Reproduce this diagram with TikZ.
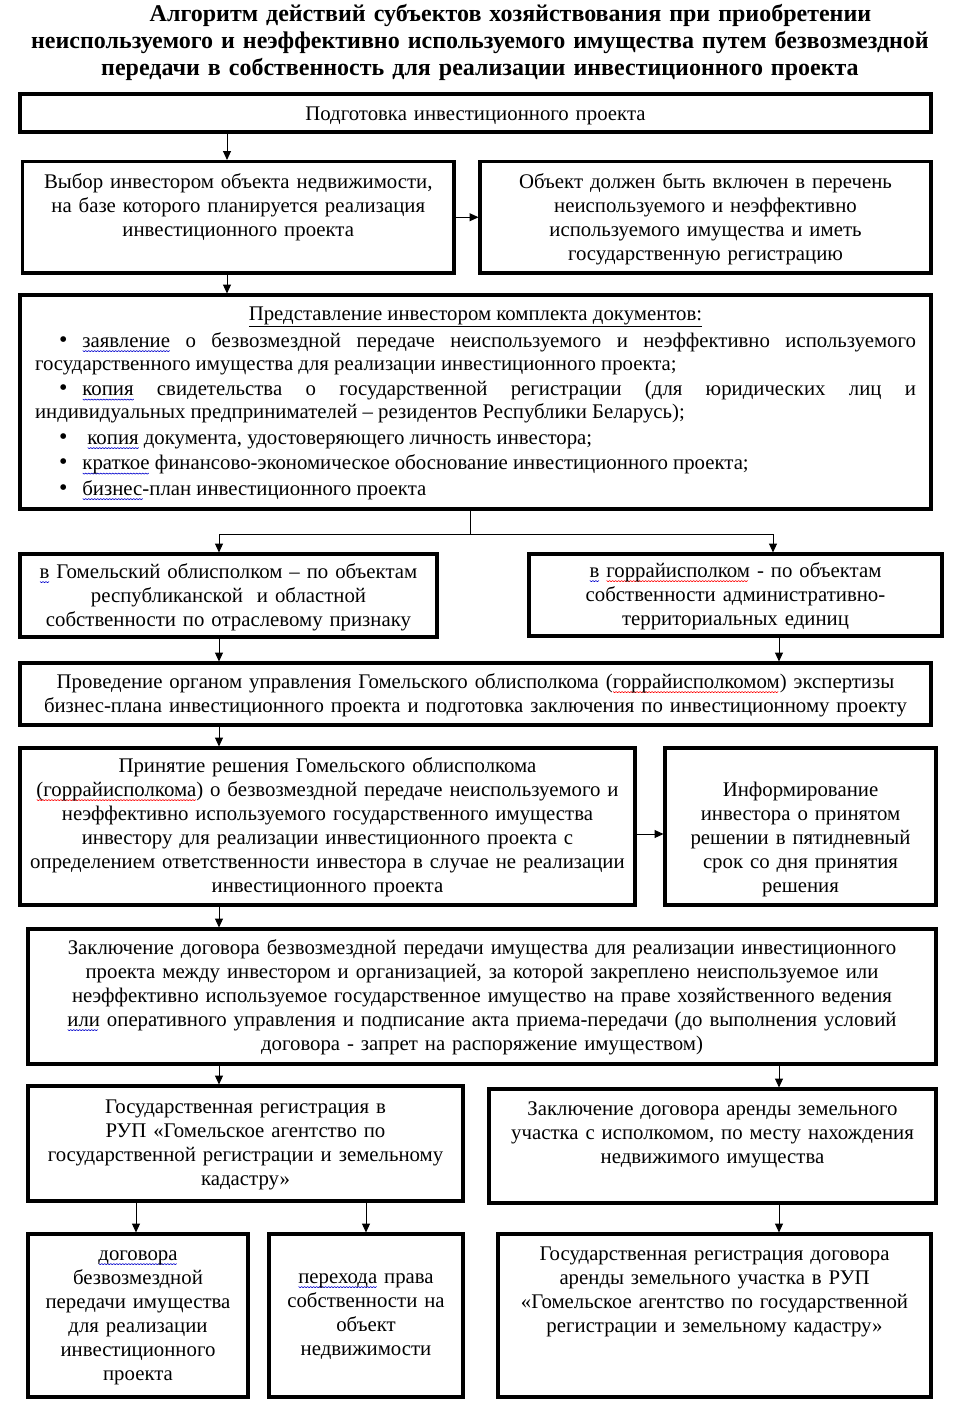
\documentclass[tikz,border=0pt]{standalone}
\usepackage{fontspec}
\setmainfont{Liberation Serif}
\usepackage{xcolor}
\usepackage{tikz}
\usetikzlibrary{arrows.meta, positioning, calc}

\newsavebox\wvbox
\newcommand\wavy[2]{\leavevmode\sbox\wvbox{#2}\pgfmathtruncatemacro\wvn{\the\wd\wvbox/3}%
  \rlap{\tikz[baseline=0pt, x=1pt, y=1pt]\draw[#1, line width=0.6pt, line join=round] (0,-3.5) \foreach \k in {1,...,\wvn} {-- ++(1.5,-1.2) -- ++(1.5,1.2)};}\usebox\wvbox}
\newcommand\bwave[1]{\wavy{blue!80!black}{#1}}
\newcommand\rwave[1]{\wavy{red}{#1}}
\newcommand\itm[1]{\hspace*{24pt}{\fontsize{24}{23}\selectfont\textbullet}\hspace{#1}}

\begin{document}
\begin{tikzpicture}[
    x=1pt, y=-1pt,
    blk/.style={draw, line width=3.5pt, anchor=north west, align=center, inner xsep=4pt, inner ysep=0pt, outer sep=0pt, text height=26pt, font=\fontsize{20.8}{24}\selectfont},
    ttl/.style={anchor=north, text width=950pt, align=center, inner sep=0pt, text height=21pt, text depth=60pt, font=\fontsize{24}{27}\selectfont\bfseries},
    >={Triangle[length=9pt,width=8pt]}]
  \useasboundingbox (0,0) rectangle (960,1424);
  \node[ttl] (title) at (480,0) {\hspace*{61pt}Алгоритм действий субъектов хозяйствования при приобретении\\
    неиспользуемого и неэффективно используемого имущества путем безвозмездной\\
    передачи в собственность для реализации инвестиционного проекта};

  \node[blk, text width=903pt, text depth=12pt] (prep) at (20,94) {Подготовка инвестиционного проекта};
  \node[blk, text width=423.5pt, text height=26.5pt, text depth=85pt] (choice) at (22.5,161.5)
    {Выбор инвестором объекта недвижимости,\\ на базе которого планируется реализация\\ инвестиционного проекта};
  \node[blk, text width=443pt, text height=26.5pt, text depth=85pt] (list) at (480,161.5)
    {Объект должен быть включен в перечень\\ неиспользуемого и неэффективно\\ используемого имущества и иметь\\ государственную регистрацию};
  \node[blk, inner xsep=15pt, text width=881pt, text height=25pt, text depth=189pt, align=justify, font=\fontsize{20.8}{23}\selectfont] (docs) at (20,295) {%
    \setlength{\parskip}{2.5pt}%
    {\centering\underline{Представление инвестором комплекта документов:}\par}\vspace{1.5pt}
    \itm{15pt}\bwave{заявление} о безвозмездной передаче неиспользуемого и неэффективно используемого\linebreak
    государственного имущества для реализации инвестиционного проекта;\par
    \itm{15pt}\bwave{копия} свидетельства о государственной регистрации (для юридических лиц и\linebreak
    индивидуальных предпринимателей – резидентов Республики Беларусь);\par
    \itm{20pt}\bwave{копия} документа, удостоверяющего личность инвестора;\par
    \itm{15pt}\bwave{краткое} финансово-экономическое обоснование инвестиционного проекта;\par
    \itm{15pt}\bwave{бизнес}-план инвестиционного проекта\par};

  \node[blk, text width=409pt, text height=24pt, text depth=59pt] (oblast) at (20,554)
    {\bwave{в} Гомельский облисполком – по объектам\\ республиканской \ и областной\\ собственности по отраслевому признаку};
  \node[blk, text width=405pt, text height=23pt, text depth=59pt] (rayon) at (529,554)
    {\bwave{в} \rwave{горрайисполком} - по объектам\\ собственности административно-\\ территориальных единиц};
  \node[blk, text width=903pt, text height=25pt, text depth=37pt] (expert) at (20,663)
    {Проведение органом управления Гомельского облисполкома (\rwave{горрайисполкомом}) экспертизы\\ бизнес-плана инвестиционного проекта и подготовка заключения по инвестиционному проекту};
  \node[blk, text width=607pt, text height=24pt, text depth=133pt] (decision) at (20,748)
    {Принятие решения Гомельского облисполкома\\ \rwave{(горрайисполкома}) о безвозмездной передаче неиспользуемого и\\ неэффективно используемого государственного имущества\\ инвестору для реализации инвестиционного проекта с\\ определением ответственности инвестора в случае не реализации\\ инвестиционного проекта};
  \node[blk, text width=263pt, text height=48pt, text depth=109pt] (inform) at (665,748)
    {Информирование\\ инвестора о принятом\\ решении в пятидневный\\ срок со дня принятия\\ решения};
  \node[blk, text width=900pt, text height=25pt, text depth=110pt] (contract) at (28,929)
    {Заключение договора безвозмездной передачи имущества для реализации инвестиционного\\ проекта между инвестором и организацией, за которой закреплено неиспользуемое или\\ неэффективно используемое государственное имущество на праве хозяйственного ведения\\ \bwave{или} оперативного управления и подписание акта приема-передачи (до выполнения условий\\ договора - запрет на распоряжение имуществом)};

  \node[blk, text width=427pt, text height=27pt, text depth=88pt] (reg) at (28,1086)
    {Государственная регистрация в\\ РУП «Гомельское агентство по\\ государственной регистрации и земельному\\ кадастру»};
  \node[blk, text width=439pt, text height=26pt, text depth=88pt] (lease) at (489,1089)
    {Заключение договора аренды земельного\\ участка с исполкомом, по месту нахождения\\ недвижимого имущества};
  \node[blk, text width=212pt, text height=26pt, text depth=137pt] (regcontr) at (28,1234)
    {\bwave{договора}\\ безвозмездной\\ передачи имущества\\ для реализации\\ инвестиционного\\ проекта};
  \node[blk, text width=186pt, text height=49pt, text depth=114pt] (regright) at (269,1234)
    {\bwave{перехода} права\\ собственности на\\ объект\\ недвижимости};
  \node[blk, text width=425pt, text height=26pt, text depth=137pt] (reglease) at (498,1234)
    {Государственная регистрация договора\\ аренды земельного участка в РУП\\ «Гомельское агентство по государственной\\ регистрации и земельному кадастру»};

  \coordinate (xa) at (219,0);
  \coordinate (xb) at (227,0);
  \coordinate (xc) at (773,0);
  \coordinate (xd) at (779,0);
  \coordinate (xe) at (136,0);
  \coordinate (xf) at (366,0);
  \coordinate (split) at (470,534);
  \coordinate (ya) at (0,834);

  \draw[->, line width=1pt, shorten >=1.5pt] (prep.south -| xb) -- (choice.north -| xb);
  \draw[->, line width=1pt, shorten >=1.5pt] (choice.east) -- (list.west);
  \draw[->, line width=1pt, shorten >=1.5pt] (choice.south -| xb) -- (docs.north -| xb);
  \draw[line width=1pt] (docs.south -| split) -- (split);
  \draw[->, line width=1pt, shorten >=1.5pt] (split) -| (oblast.north -| xa);
  \draw[->, line width=1pt, shorten >=1.5pt] (split) -| (rayon.north -| xc);
  \draw[->, line width=1pt, shorten >=1.5pt] (oblast.south -| xa) -- (expert.north -| xa);
  \draw[->, line width=1pt, shorten >=1.5pt] (rayon.south -| xd) -- (expert.north -| xd);
  \draw[->, line width=1pt, shorten >=1.5pt] (expert.south -| xa) -- (decision.north -| xa);
  \draw[->, line width=1pt, shorten >=1.5pt] (decision.east |- ya) -- (inform.west |- ya);
  \draw[->, line width=1pt, shorten >=1.5pt] (decision.south -| xa) -- (contract.north -| xa);
  \draw[->, line width=1pt, shorten >=1.5pt] (contract.south -| xa) -- (reg.north -| xa);
  \draw[->, line width=1pt, shorten >=1.5pt] (contract.south -| xd) -- (lease.north -| xd);
  \draw[->, line width=1pt, shorten >=1.5pt] (reg.south -| xe) -- (regcontr.north -| xe);
  \draw[->, line width=1pt, shorten >=1.5pt] (reg.south -| xf) -- (regright.north -| xf);
  \draw[->, line width=1pt, shorten >=1.5pt] (lease.south -| xd) -- (reglease.north -| xd);
\end{tikzpicture}
\end{document}
